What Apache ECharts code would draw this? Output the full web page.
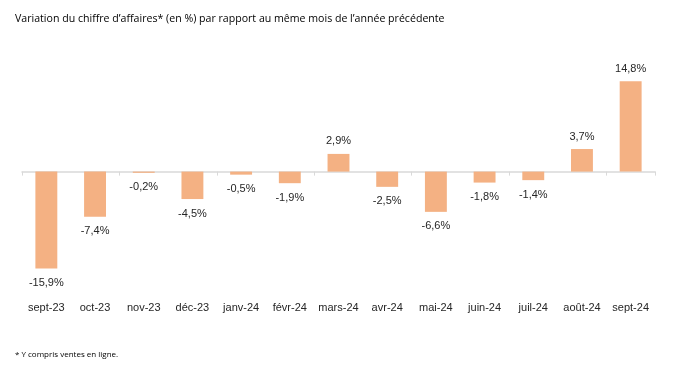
<!DOCTYPE html>
<html><head><meta charset="utf-8">
<script src="https://cdn.jsdelivr.net/npm/echarts@6/dist/echarts.min.js"></script>
<style>html,body{margin:0;padding:0;background:#fff}#c{width:676px;height:379px}</style>
</head><body><div id="c"></div>
<script>
var categories = ['sept-23','oct-23','nov-23','déc-23','janv-24','févr-24','mars-24','avr-24','mai-24','juin-24','juil-24','août-24','sept-24'];
var values = [-15.9, -7.4, -0.2, -4.5, -0.5, -1.9, 2.9, -2.5, -6.6, -1.8, -1.4, 3.7, 14.8];
var titleText = 'Variation du chiffre d’affaires* (en %) par rapport au même mois de l’année précédente';
var footnoteText = '* Y compris ventes en ligne.';

var chart = echarts.init(document.getElementById('c'), null, {renderer:'canvas'});
chart.setOption({
  animation:false,
  title:[
    {text:titleText, left:10, top:8, textStyle:{fontFamily:'Open Sans', fontSize:10.6, fontWeight:'normal', color:'#000'}},
    {text:footnoteText, left:10, top:346, textStyle:{fontFamily:'Open Sans', fontSize:8, fontWeight:'normal', color:'#000'}}
  ],
  grid:{left:22, right:21, top:74, height:195.2},
  xAxis:[
    {type:'category', data:categories, position:'bottom',
     axisLine:{onZero:true, lineStyle:{color:'#D9D9D9', width:1.5}},
     axisTick:{show:true, length:4, lineStyle:{color:'#D9D9D9'}},
     axisLabel:{show:false}},
    {type:'category', data:categories, position:'bottom', offset:0,
     axisLine:{show:false, onZero:false}, axisTick:{show:false},
     axisLabel:{show:true, interval:0, margin:33, fontFamily:'Liberation Sans', fontSize:11, color:'#262626'}}
  ],
  yAxis:{type:'value', min:-16, max:16, show:false, splitLine:{show:false}},
  series:[{
    type:'bar', xAxisIndex:0, barWidth:'45%',
    data: values.map(function(v){return {value:v, label:{position: v<0?'bottom':'top', distance: v<0?9:7}};}),
    itemStyle:{color:'#F4B183'},
    label:{show:true, fontFamily:'Liberation Sans', fontSize:11, color:'#262626',
      formatter:function(p){return String(p.value).replace('.',',')+'%';}}
  }]
});
</script></body></html>
